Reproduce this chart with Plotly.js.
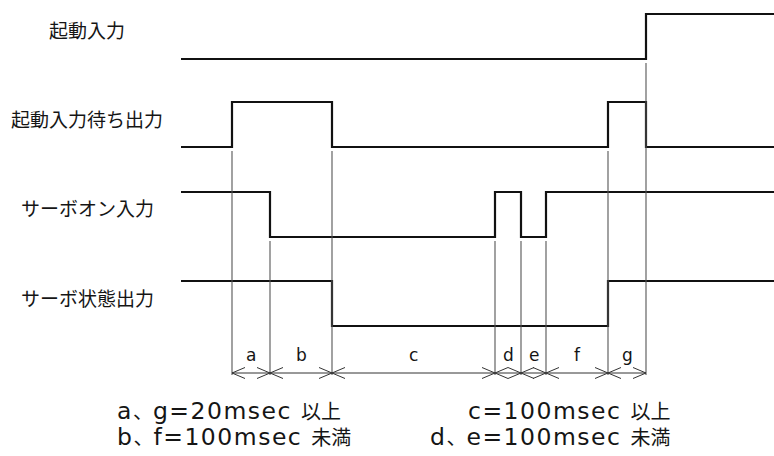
<!DOCTYPE html>
<html>
<head>
<meta charset="utf-8">
<script src="https://cdn.plot.ly/plotly-3.0.1.min.js"></script>
<style>html,body{margin:0;padding:0;background:#fff;}#chart{width:774px;height:456px;}</style>
</head>
<body>
<div id="chart"></div>
<script>
// ---- data ----
const signalNames = ['起動入力', '起動入力待ち出力', 'サーボオン入力', 'サーボ状態出力'];
const sig1Times = [181, 646, 774];
const sig1Levels = [0, 1, 1];
const sig2Times = [181, 232, 332, 608, 646, 774];
const sig2Levels = [0, 1, 0, 1, 0, 0];
const sig3Times = [181, 270, 495, 521, 546, 774];
const sig3Levels = [1, 0, 1, 0, 1, 1];
const sig4Times = [181, 332, 608, 774];
const sig4Levels = [1, 0, 1, 1];
const boundaries = [232, 270, 332, 495, 521, 546, 608, 646];
const guideFromSignal = [1, 2, 1, 2, 2, 2, 1, 0];
const intervalLabels = ['a', 'b', 'c', 'd', 'e', 'f', 'g'];
const noteLeft = ['a、g=20msec 以上', 'b、f=100msec 未満'];
const noteRight = ['c=100msec 以上', 'd、e=100msec 未満'];

// ---- layout constants ----
const W = 774, H = 456;
const rowLow = [59, 147, 237, 326];
const amp = 45;
const labelX = 87;
const labelY = [29, 118, 207, 297];
const arrowY = 373, guideBottom = 375, guideGap = 4;
const headL = 13, headH = 5.5;
const letterY = 355;
const noteMidY = 423;
const noteLeftX = 115, noteRightX = 672;
const CJK = '"Noto Sans CJK JP", "Noto Sans", sans-serif';
const LAT = '"DejaVu Sans", "Noto Sans CJK JP", sans-serif';

const allTimes = [sig1Times, sig2Times, sig3Times, sig4Times];
const allLevels = [sig1Levels, sig2Levels, sig3Levels, sig4Levels];

const traces = [];
allTimes.forEach((t, i) => {
  traces.push({
    type: 'scatter', mode: 'lines', x: t,
    y: allLevels[i].map(v => rowLow[i] - v * amp),
    line: {shape: 'hv', color: '#111', width: 2.2},
    hoverinfo: 'skip', cliponaxis: false
  });
});

// guide lines
const gx = [], gy = [];
boundaries.forEach((b, k) => {
  gx.push(b, b, null);
  gy.push(rowLow[guideFromSignal[k]] + guideGap, guideBottom, null);
});
traces.push({type: 'scatter', mode: 'lines', x: gx, y: gy,
  line: {color: '#555', width: 1.1}, hoverinfo: 'skip'});

// dimension line + arrowheads
const ax = [boundaries[0], boundaries[boundaries.length - 1], null];
const ay = [arrowY, arrowY, null];
for (let k = 0; k < boundaries.length - 1; k++) {
  const s = boundaries[k], e = boundaries[k + 1];
  ax.push(s + headL, s, s + headL, null, e - headL, e, e - headL, null);
  ay.push(arrowY - headH, arrowY, arrowY + headH, null, arrowY - headH, arrowY, arrowY + headH, null);
}
traces.push({type: 'scatter', mode: 'lines', x: ax, y: ay,
  line: {color: '#333', width: 1}, hoverinfo: 'skip'});

// wide-latin / CJK mixed note text
function styleNote(s) {
  return s.split(/([\u3000-\u30ff\u4e00-\u9fff]+)/).filter(p => p.length).map(p => {
    if (/[\u3000-\u30ff\u4e00-\u9fff]/.test(p)) {
      return '<span style="font-family:\'Noto Sans CJK JP\';font-size:20px;letter-spacing:0px">' + p + '</span>';
    }
    return '<span style="font-size:23.5px;letter-spacing:1.5px">' + p + '</span>';
  }).join('');
}

const annotations = [];
signalNames.forEach((n, i) => annotations.push({
  x: labelX, y: labelY[i], xref: 'x', yref: 'y', text: n, showarrow: false,
  xanchor: 'center', yanchor: 'middle', font: {family: CJK, size: 19, color: '#151515'}
}));
intervalLabels.forEach((l, k) => annotations.push({
  x: (boundaries[k] + boundaries[k + 1]) / 2, y: letterY, xref: 'x', yref: 'y', text: l,
  showarrow: false, xanchor: 'center', yanchor: 'middle',
  font: {family: LAT, size: 17, color: '#151515'}
}));
annotations.push({
  x: noteLeftX, y: noteMidY, xref: 'x', yref: 'y', text: noteLeft.map(styleNote).join('<br>'),
  showarrow: false, xanchor: 'left', yanchor: 'middle', align: 'left',
  font: {family: LAT, size: 20, color: '#151515'}
});
annotations.push({
  x: noteRightX, y: noteMidY, xref: 'x', yref: 'y', text: noteRight.map(styleNote).join('<br>'),
  showarrow: false, xanchor: 'right', yanchor: 'middle', align: 'right',
  font: {family: LAT, size: 20, color: '#151515'}
});

const layout = {
  width: W, height: H, margin: {l: 0, r: 0, t: 0, b: 0, pad: 0},
  paper_bgcolor: '#fff', plot_bgcolor: '#fff', showlegend: false,
  xaxis: {range: [0, W], visible: false, fixedrange: true},
  yaxis: {range: [H, 0], visible: false, fixedrange: true},
  annotations: annotations
};
Plotly.newPlot('chart', traces, layout, {staticPlot: true, displayModeBar: false});
</script>
</body>
</html>
